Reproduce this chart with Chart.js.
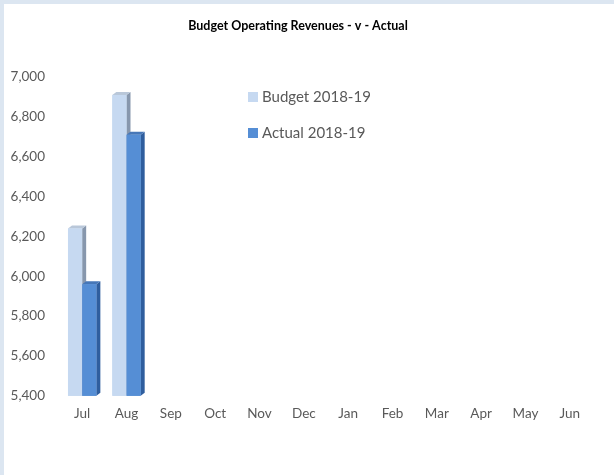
<!DOCTYPE html>
<html>
<head>
<meta charset="utf-8">
<title>Budget Operating Revenues</title>
<script src="https://cdn.jsdelivr.net/npm/chart.js@4/dist/chart.umd.min.js"></script>
<style>
  html, body { margin: 0; padding: 0; background: #dce6f1; }
  #wrap { position: absolute; left: 4px; top: 4px; width: 610px; height: 471px; background: #fff; }
</style>
</head>
<body>
<div id="wrap"><canvas id="revChart"></canvas></div>
<script>
// months of the financial year
var months = ["Jul", "Aug", "Sep", "Oct", "Nov", "Dec", "Jan", "Feb", "Mar", "Apr", "May", "Jun"];
// revenues ($'000), only Jul and Aug reported so far
var budget = [6240, 6910, null, null, null, null, null, null, null, null, null, null];
var actual = [5960, 6710, null, null, null, null, null, null, null, null, null, null];
var yMin = 5400, yMax = 7000, yStep = 200;

var FONT = "Lato, 'Open Sans', sans-serif";

// fake 3d look: right side and top cap on each bar, then the front face again
// so that later bars sit in front of earlier ones
var depthPlugin = {
  id: 'depth',
  afterDatasetsDraw: function (chart) {
    var ctx = chart.ctx, area = chart.chartArea;
    var dx = 4, dy = 3;
    ctx.save();
    chart.data.datasets.forEach(function (ds, di) {
      var meta = chart.getDatasetMeta(di);
      meta.data.forEach(function (bar, i) {
        if (ds.data[i] == null) return;
        var p = bar.getProps(['x', 'y', 'base', 'width'], true);
        var l = p.x - p.width / 2, r = p.x + p.width / 2;
        var top = Math.max(p.y, area.top), bot = Math.min(p.base, area.bottom);
        ctx.fillStyle = ds.sideColor;
        ctx.beginPath();
        ctx.moveTo(r, top);
        ctx.lineTo(r + dx, top - dy);
        ctx.lineTo(r + dx, bot - dy);
        ctx.lineTo(r, bot);
        ctx.closePath();
        ctx.fill();
        ctx.fillStyle = ds.topColor;
        ctx.beginPath();
        ctx.moveTo(l, top);
        ctx.lineTo(l + dx, top - dy);
        ctx.lineTo(r + dx, top - dy);
        ctx.lineTo(r, top);
        ctx.closePath();
        ctx.fill();
        ctx.fillStyle = ds.backgroundColor;
        ctx.fillRect(l, top, r - l, bot - top);
      });
    });
    ctx.restore();
  }
};

// legend sitting inside the plot
var innerLegend = {
  id: 'innerLegend',
  afterDraw: function (chart) {
    var ctx = chart.ctx, area = chart.chartArea;
    var x = area.left + 188, y = area.top + 20;
    ctx.save();
    ctx.font = "15px " + FONT;
    ctx.textBaseline = 'middle';
    chart.data.datasets.forEach(function (ds, i) {
      var cy = y + i * 36;
      ctx.fillStyle = ds.backgroundColor;
      ctx.fillRect(x, cy - 5, 10, 10);
      ctx.fillStyle = '#595959';
      ctx.fillText(ds.label, x + 14, cy);
    });
    ctx.restore();
  }
};

new Chart(document.getElementById('revChart'), {
  type: 'bar',
  data: {
    labels: months,
    datasets: [
      {
        label: 'Budget 2018-19',
        data: budget,
        backgroundColor: '#c6d9f1',
        sideColor: '#8797ad',
        topColor: '#b9c7d9'
      },
      {
        label: 'Actual 2018-19',
        data: actual,
        backgroundColor: '#558ed5',
        sideColor: '#2f5e9e',
        topColor: '#4677b8'
      }
    ]
  },
  options: {
    responsive: true,
    maintainAspectRatio: false,
    animation: false,
    datasets: { bar: { barPercentage: 1.0, categoryPercentage: 0.64 } },
    layout: { padding: { left: 0, right: 22, top: 0, bottom: 43 } },
    plugins: {
      legend: { display: false },
      tooltip: { enabled: false },
      title: {
        display: true,
        text: 'Budget Operating Revenues - v - Actual',
        color: '#000',
        font: { family: FONT, size: 12.5, weight: 'bold' },
        padding: { top: 14, bottom: 44 }
      }
    },
    scales: {
      x: {
        grid: { display: false, drawTicks: false },
        border: { display: false },
        ticks: { color: '#595959', font: { family: FONT, size: 13.5 }, padding: 10 }
      },
      y: {
        min: yMin,
        max: yMax,
        grid: { display: false, drawTicks: false },
        border: { display: false },
        ticks: {
          stepSize: yStep,
          color: '#595959',
          font: { family: FONT, size: 13.5 },
          padding: 15
        },
        afterFit: function (scale) { scale.width = 56; }
      }
    }
  },
  plugins: [depthPlugin, innerLegend]
});
</script>
</body>
</html>
